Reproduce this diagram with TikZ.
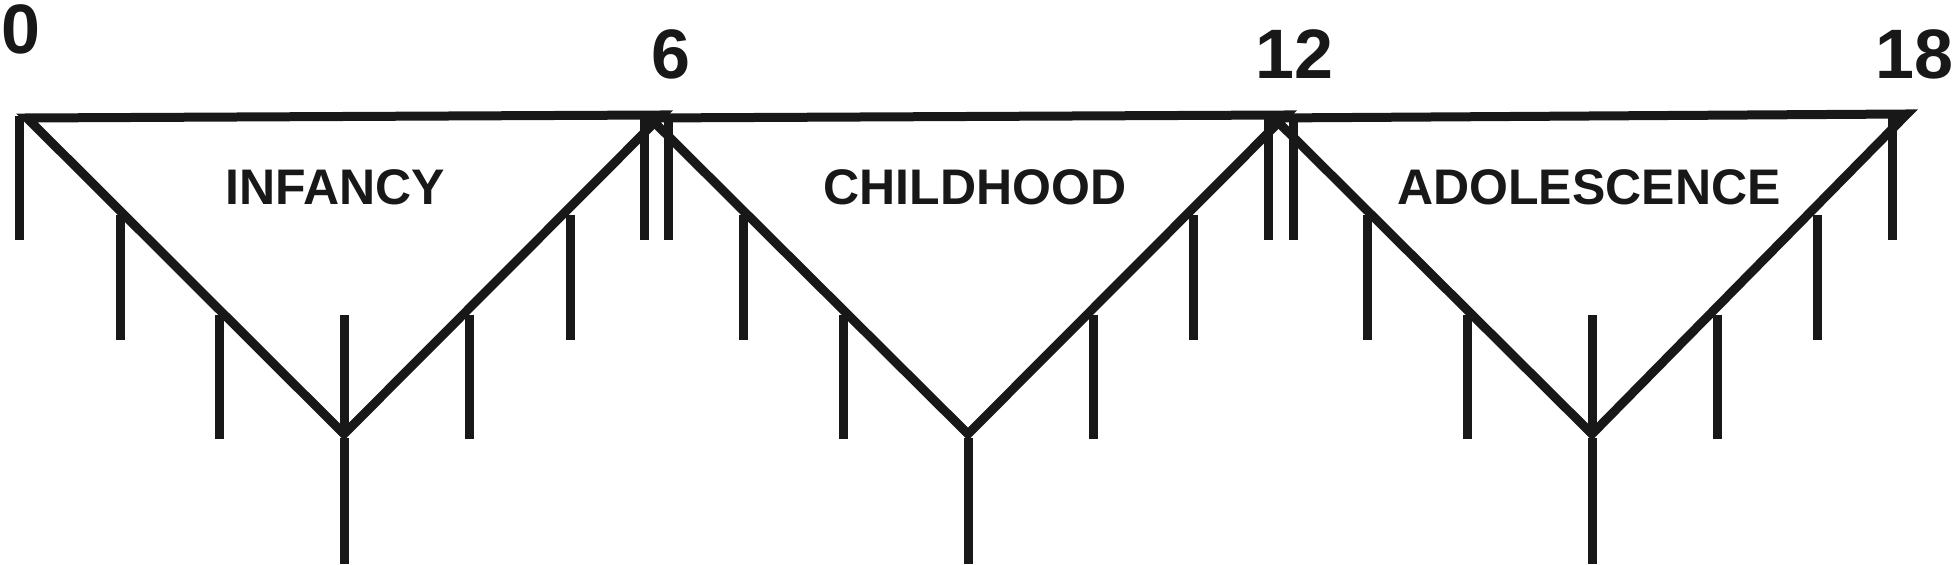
\documentclass[tikz,border=0pt]{standalone}
\usepackage{fontspec}
\setmainfont{Liberation Sans}
\definecolor{ink}{RGB}{24,24,24}
\begin{document}
\begin{tikzpicture}[x=0.5pt,y=-0.5pt,
  tri/.style={line width=4.5pt, line join=miter, miter limit=10, draw=ink},
  tk/.style={line width=4.5pt, draw=ink},
  agelbl/.style={font=\fontsize{35}{38}\selectfont\bfseries, text=ink, inner sep=0pt, anchor=base},
  phase/.style={font=\fontsize{25}{28}\selectfont\bfseries, text=ink, inner sep=0pt, anchor=base}]
\useasboundingbox (0,0) rectangle (1953,565);
% triangle corners
\coordinate (L1) at (27,118);   \coordinate (R1) at (662,115);  \coordinate (V1) at (344,434);
\coordinate (L2) at (650,118);  \coordinate (R2) at (1286,115); \coordinate (V2) at (968,434);
\coordinate (L3) at (1274,118); \coordinate (R3) at (1907,114); \coordinate (V3) at (1592,434);
% ticks
\foreach \x in {19.5,644,668,1268,1293,1892} \draw[tk] (\x,116) -- (\x,240);
\foreach \x in {120,570,743,1193,1367,1817} \draw[tk] (\x,215) -- (\x,340);
\foreach \x in {219,469,843,1093,1467,1717} \draw[tk] (\x,315) -- (\x,439);
\foreach \x in {344,1592} \draw[tk] (\x,315) -- (\x,434);
\foreach \x in {344,968,1592} \draw[tk] (\x,438) -- (\x,564);
% triangles
\draw[tri] (L1) -- (R1) -- (V1) -- cycle;
\draw[tri] (L2) -- (R2) -- (V2) -- cycle;
\draw[tri] (L3) -- (R3) -- (V3) -- cycle;
% labels
\node[agelbl] (a0) at (21,54) {0};
\node[agelbl] (a6) at (671,79) {6};
\node[agelbl] (a12) at (1294,79) {12};
\node[agelbl] (a18) at (1914,79) {18};
\node[phase] (p1) at (335,205) {INFANCY};
\node[phase] (p2) at (975,205) {CHILDHOOD};
\node[phase] (p3) at (1589,205) {ADOLESCENCE};
\end{tikzpicture}
\end{document}
